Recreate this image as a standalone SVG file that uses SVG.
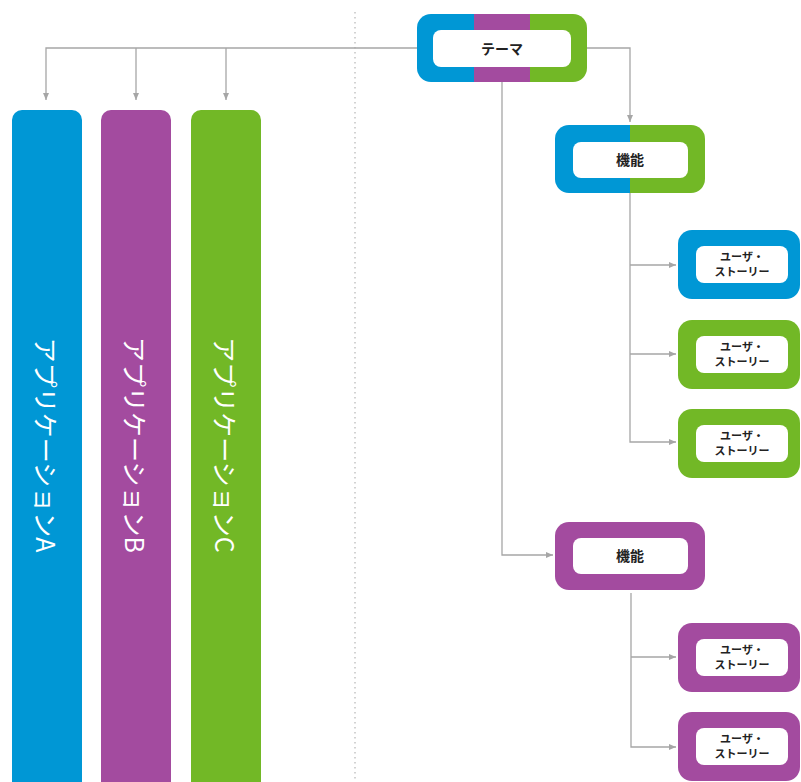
<svg xmlns="http://www.w3.org/2000/svg" width="801" height="782" viewBox="0 0 801 782">
<style>
.conn{fill:none;stroke:#a6a6a6;stroke-width:1.3}
.blue{fill:#0097d5}
.purple{fill:#a34b9f}
.green{fill:#72b826}
.inner{fill:#fff}
.lbl{font-family:"Noto Sans CJK JP","Noto Sans",sans-serif;font-weight:bold;fill:#222;text-anchor:middle}
.col{font-family:"Noto Sans CJK JP","Noto Sans",sans-serif;font-weight:normal;fill:#fff;font-size:25px;text-anchor:middle;dominant-baseline:central}
</style>
<defs>
<marker id="arr" markerWidth="7" markerHeight="6" refX="7" refY="3" orient="auto" markerUnits="userSpaceOnUse">
<path d="M0,0 L7,3 L0,6 Z" fill="#a6a6a6"/>
</marker>
<clipPath id="clipTheme"><rect x="417" y="14" width="170" height="68" rx="14"/></clipPath>
<clipPath id="clipF1"><rect x="555" y="125" width="150" height="68" rx="14"/></clipPath>
</defs>

<line x1="355" y1="12" x2="355" y2="782" stroke="#b5b5b5" stroke-width="1.2" stroke-dasharray="1.5 3.5"/>

<g id="connectors">
<path class="conn" d="M417,48 H46 V100" marker-end="url(#arr)"/>
<path class="conn" d="M136,48 V100" marker-end="url(#arr)"/>
<path class="conn" d="M226,48 V100" marker-end="url(#arr)"/>
<path class="conn" d="M587,48 H630 V122" marker-end="url(#arr)"/>
<path class="conn" d="M502,82 V555 H553" marker-end="url(#arr)"/>
<path class="conn" d="M630,193 V442 H676" marker-end="url(#arr)"/>
<path class="conn" d="M630,265 H676" marker-end="url(#arr)"/>
<path class="conn" d="M630,354 H676" marker-end="url(#arr)"/>
<path class="conn" d="M631,593 V747 H676" marker-end="url(#arr)"/>
<path class="conn" d="M631,657 H676" marker-end="url(#arr)"/>
</g>

<g id="appA">
<rect class="blue" x="12" y="110" width="70" height="690" rx="10"/>
<text class="col" transform="translate(47,445) rotate(90)">アプリケーションA</text>
</g>
<g id="appB">
<rect class="purple" x="101" y="110" width="70" height="690" rx="10"/>
<text class="col" transform="translate(136,445) rotate(90)">アプリケーションB</text>
</g>
<g id="appC">
<rect class="green" x="191" y="110" width="70" height="690" rx="10"/>
<text class="col" transform="translate(226,445) rotate(90)">アプリケーションC</text>
</g>

<g id="theme">
<g clip-path="url(#clipTheme)">
<rect class="blue" x="417" y="14" width="57" height="68"/>
<rect class="purple" x="474" y="14" width="56" height="68"/>
<rect class="green" x="530" y="14" width="57" height="68"/>
</g>
<rect class="inner" x="433" y="30" width="138" height="37" rx="8"/>
<text class="lbl" x="502" y="54" font-size="14">テーマ</text>
</g>

<g id="feature1">
<g clip-path="url(#clipF1)">
<rect class="blue" x="555" y="125" width="75" height="68"/>
<rect class="green" x="630" y="125" width="75" height="68"/>
</g>
<rect class="inner" x="573" y="142" width="115" height="36" rx="8"/>
<text class="lbl" x="630" y="165" font-size="14">機能</text>
</g>

<g id="story1">
<rect class="blue" x="678" y="230" width="122" height="69" rx="14"/>
<rect class="inner" x="696" y="246" width="92" height="37" rx="8"/>
<text class="lbl" font-size="11"><tspan x="742" y="261">ユーザ・</tspan><tspan x="742" y="276">ストーリー</tspan></text>
</g>
<g id="story2">
<rect class="green" x="678" y="320" width="122" height="69" rx="14"/>
<rect class="inner" x="696" y="336" width="92" height="37" rx="8"/>
<text class="lbl" font-size="11"><tspan x="742" y="351">ユーザ・</tspan><tspan x="742" y="366">ストーリー</tspan></text>
</g>
<g id="story3">
<rect class="green" x="678" y="409" width="122" height="69" rx="14"/>
<rect class="inner" x="696" y="425" width="92" height="37" rx="8"/>
<text class="lbl" font-size="11"><tspan x="742" y="440">ユーザ・</tspan><tspan x="742" y="455">ストーリー</tspan></text>
</g>

<g id="feature2">
<rect class="purple" x="555" y="522" width="150" height="68" rx="14"/>
<rect class="inner" x="573" y="538" width="115" height="36" rx="8"/>
<text class="lbl" x="630" y="561" font-size="14">機能</text>
</g>

<g id="story4">
<rect class="purple" x="678" y="623" width="122" height="69" rx="14"/>
<rect class="inner" x="696" y="639" width="92" height="37" rx="8"/>
<text class="lbl" font-size="11"><tspan x="742" y="654">ユーザ・</tspan><tspan x="742" y="669">ストーリー</tspan></text>
</g>
<g id="story5">
<rect class="purple" x="678" y="712" width="122" height="69" rx="14"/>
<rect class="inner" x="696" y="728" width="92" height="37" rx="8"/>
<text class="lbl" font-size="11"><tspan x="742" y="743">ユーザ・</tspan><tspan x="742" y="758">ストーリー</tspan></text>
</g>
</svg>
